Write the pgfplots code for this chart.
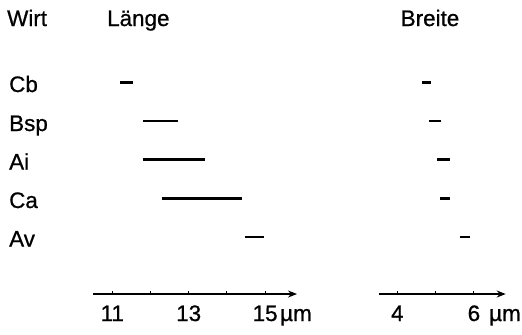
\documentclass[border=0pt]{standalone}
\usepackage{fontspec}
\setmainfont{Liberation Sans}[FakeBold=0.8]
\usepackage{pgfplots}
\pgfplotsset{compat=1.18}
\usetikzlibrary{arrows.meta}
\newcommand{\bigf}{\fontsize{22.5}{24}\selectfont}
\begin{document}
\begin{tikzpicture}[x=1bp,y=1bp]
\path[use as bounding box] (0,0) rectangle (522,-334);
\pgfplotsset{rng/.style={
  scale only axis, axis x line=bottom, axis y line=none,
  ymin=-0.482, ymax=5.554, height=233bp,
  x axis line style={line width=1.6bp,-{Stealth[length=9bp,width=7bp]}},
  xtick align=inside, major tick length=3.5bp,
  xtick style={line width=1bp,black},
  xticklabel style={font=\bigf, anchor=base, yshift=-27bp},
  clip=false,
}}
\tikzset{rangebar/.style={black, line width=2.6bp, mark=none}}
% Left: Laenge
\begin{axis}[rng, at={(93bp,-294bp)}, anchor=south west,
  width=204bp, xmin=10.495, xmax=15.835,
  xtick={11,12,13,14,15}, xticklabels={11,,13,,15}]
\addplot[rangebar] coordinates {(11.20,5) (11.53,5)};
\addplot[rangebar] coordinates {(11.80,4) (12.71,4)};
\addplot[rangebar] coordinates {(11.80,3) (13.43,3)};
\addplot[rangebar] coordinates {(12.31,2) (14.39,2)};
\addplot[rangebar] coordinates {(14.47,1) (14.98,1)};
\end{axis}
% Right: Breite
\begin{axis}[rng, at={(379.3bp,-294bp)}, anchor=south west,
  width=126.4bp, xmin=3.53, xmax=6.83,
  xtick={4,5,6}, xticklabels={4,,6}]
\addplot[rangebar] coordinates {(4.65,5) (4.87,5)};
\addplot[rangebar] coordinates {(4.83,4) (5.14,4)};
\addplot[rangebar] coordinates {(5.04,3) (5.37,3)};
\addplot[rangebar] coordinates {(5.12,2) (5.37,2)};
\addplot[rangebar] coordinates {(5.63,1) (5.90,1)};
\end{axis}
% texts
\node[anchor=base west,font=\bigf,inner sep=0] at (7,-26) {Wirt};
\node[anchor=base west,font=\bigf,inner sep=0] at (107,-26) {Länge};
\node[anchor=base,font=\bigf,inner sep=0] at (430,-26) {Breite};
\node[anchor=base west,font=\bigf,inner sep=0] at (9,-92) {Cb};
\node[anchor=base west,font=\bigf,inner sep=0] at (9,-131) {Bsp};
\node[anchor=base west,font=\bigf,inner sep=0] at (9,-169.5) {Ai};
\node[anchor=base west,font=\bigf,inner sep=0] at (9,-208) {Ca};
\node[anchor=base west,font=\bigf,inner sep=0] at (9,-246.5) {Av};
\node[anchor=base,font=\bigf,inner sep=0] at (296,-321) {µm};
\node[anchor=base,font=\bigf,inner sep=0] at (505,-321) {µm};
\end{tikzpicture}
\end{document}
